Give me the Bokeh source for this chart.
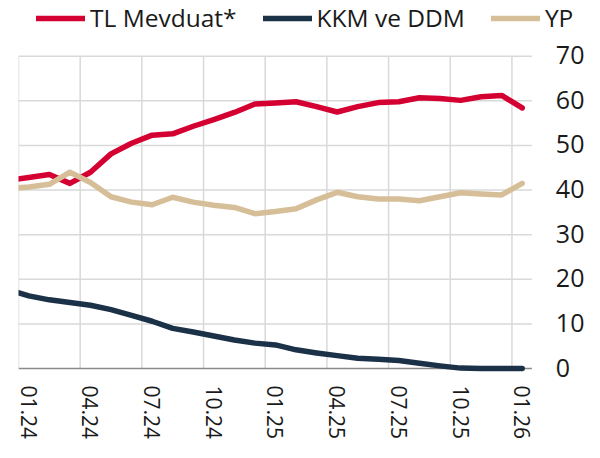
from bokeh.plotting import figure
from bokeh.models import Range1d, FixedTicker, Legend, LegendItem, ColumnDataSource, LabelSet
from bokeh.core.properties import value
from bokeh.embed import file_html
from bokeh.resources import INLINE

# Monthly observations (12.23 only sets where the line enters the left edge)
months = ["12.23", "01.24", "02.24", "03.24", "04.24", "05.24", "06.24", "07.24", "08.24",
          "09.24", "10.24", "11.24", "12.24", "01.25", "02.25", "03.25", "04.25", "05.25",
          "06.25", "07.25", "08.25", "09.25", "10.25", "11.25", "12.25", "01.26"]
tl_mevduat = [42.2, 42.8, 43.5, 41.5, 44.0, 48.1, 50.5, 52.3, 52.6, 54.3, 55.8, 57.4, 59.3,
              59.5, 59.8, 58.7, 57.5, 58.7, 59.6, 59.8, 60.7, 60.5, 60.1, 60.9, 61.2, 58.4]
kkm_ddm = [17.7, 16.3, 15.4, 14.8, 14.2, 13.2, 11.9, 10.6, 9.0, 8.2, 7.3, 6.4, 5.7,
           5.3, 4.2, 3.5, 2.9, 2.3, 2.1, 1.8, 1.2, 0.6, 0.1, 0.0, 0.0, 0.0]
yp = [40.3, 40.7, 41.3, 44.0, 41.7, 38.5, 37.3, 36.7, 38.4, 37.3, 36.6, 36.1, 34.7,
      35.2, 35.8, 37.8, 39.5, 38.5, 38.0, 38.0, 37.6, 38.5, 39.4, 39.1, 38.9, 41.5]
tick_labels = ["01.24", "04.24", "07.24", "10.24", "01.25", "04.25", "07.25", "10.25", "01.26"]
y_ticks = [0, 10, 20, 30, 40, 50, 60, 70]

series_names = ["TL Mevduat*", "KKM ve DDM", "YP"]
colors = ["#d50032", "#1b3147", "#d6bf98"]

# layout constants: plot band ends just before 02.26; frame extends right for value labels
x_plot_end = 24.97
x_frame_end = 27.53

# month i is centred at i-0.5 (month boundaries at integers)
xs = [i - 0.5 for i in range(len(months))]
label_pos = [months.index(t) - 0.5 for t in tick_labels]
grid_pos = [x - 0.5 for x in label_pos]

src = ColumnDataSource(dict(x=xs, tl=tl_mevduat, kkm=kkm_ddm, yp=yp))
vgrid_src = ColumnDataSource(dict(x=grid_pos, y0=[y_ticks[0]] * len(grid_pos),
                                  y1=[y_ticks[-1]] * len(grid_pos)))
hgrid_src = ColumnDataSource(dict(y=y_ticks[1:], x0=[0] * (len(y_ticks) - 1),
                                  x1=[x_plot_end] * (len(y_ticks) - 1)))
base_src = ColumnDataSource(dict(y=[y_ticks[0]], x0=[0], x1=[x_plot_end]))
ylab_src = ColumnDataSource(dict(x=[x_plot_end] * len(y_ticks), y=y_ticks,
                                 text=[str(t) for t in y_ticks]))

p = figure(width=584, height=442, output_backend="svg", toolbar_location=None,
           x_range=Range1d(0, x_frame_end), y_range=Range1d(-2.45, 82.48),
           y_axis_location=None, min_border_left=18, min_border_right=0,
           min_border_top=0, min_border_bottom=61)
p.outline_line_color = None
p.background_fill_color = "white"
p.border_fill_color = "white"
p.grid.visible = False

font = "Open Sans"
txt_color = "#1a1a1a"
grid_color = "#d9d9d9"

# x axis (bottom)
p.xaxis.ticker = FixedTicker(ticks=label_pos)
p.xaxis.major_label_overrides = {pos: lab for pos, lab in zip(label_pos, tick_labels)}
p.xaxis.major_label_orientation = "vertical"
p.xaxis.major_label_text_font = font
p.xaxis.major_label_text_font_size = "21px"
p.xaxis.major_label_text_color = txt_color
p.xaxis.major_label_standoff = 0
p.xaxis.axis_line_color = None
p.xaxis.major_tick_line_color = None
p.xaxis.minor_tick_line_color = None

# gridlines limited to the plot band
p.segment(x0="x", y0="y0", x1="x", y1="y1", source=vgrid_src, line_color=grid_color, line_width=1.5)
p.segment(x0="x0", y0="y", x1="x1", y1="y", source=hgrid_src, line_color=grid_color, line_width=1.5)
p.segment(x0="x0", y0="y", x1="x1", y1="y", source=base_src, line_color="#8a8a8a", line_width=1.5)

# value scale on the right
p.add_layout(LabelSet(x="x", y="y", text="text", source=ylab_src, x_offset=24, y_offset=1,
                      text_align="left", text_baseline="middle",
                      text_font=value(font), text_font_size=value("25px"),
                      text_color=txt_color))

renderers = []
for col, name, c in zip(["tl", "kkm", "yp"], series_names, colors):
    r = p.line("x", col, source=src, line_color=c, line_width=5.5,
               line_cap="round", line_join="round")
    renderers.append(r)

legend = Legend(items=[LegendItem(label=n, renderers=[r]) for n, r in zip(series_names, renderers)],
                orientation="horizontal", location=(18, 345),
                label_text_font=font, label_text_font_size="24.5px", label_text_color=txt_color,
                glyph_width=49, glyph_height=20, label_standoff=5, spacing=26,
                padding=0, margin=0, border_line_color=None, background_fill_alpha=0)
p.add_layout(legend, "center")

open("out.html", "w").write(file_html(p, INLINE))
